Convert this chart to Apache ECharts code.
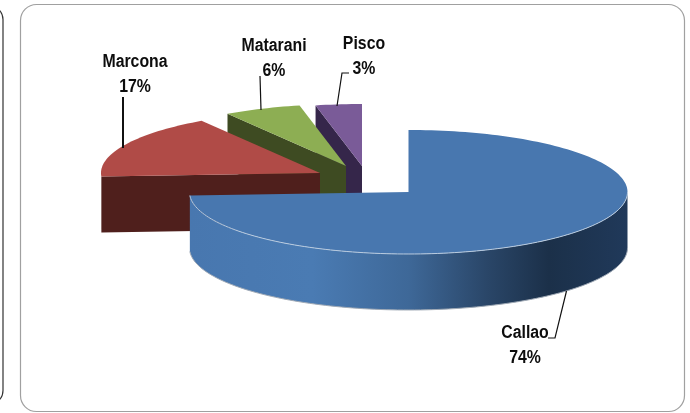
<!DOCTYPE html>
<html>
<head>
<meta charset="utf-8">
<style>html,body{margin:0;padding:0;background:#fff}#c{width:690px;height:413px}</style>
<script src="https://cdn.jsdelivr.net/npm/echarts@6/dist/echarts.min.js"></script>
</head>
<body>
<div id="c"></div>
<script>
// Data
const categories = ['Callao', 'Marcona', 'Matarani', 'Pisco'];
const shares = [74.1, 16.8, 5.7, 3.4];

// Style and layout (kept apart from the data)
const topColors = ['#4877AF', '#B04B47', '#8DAE53', '#7A5B98'];
const sideColors = ['#4877AF', '#4F1F1C', '#3E4B22', '#35264A'];
const centers = [[408.5, 192], [320, 173], [346, 166], [362, 166]];
const rx = 219, ry = 62, depth = 56;
const labelPos = [[525, 345.5], [135, 75], [274, 58.5], [364, 56.5]];
const leaders = [
  [[548, 338], [555, 338], [566.5, 291]],
  [[123, 97], [123, 148]],
  [[260, 76], [261, 110]],
  [[349, 73], [342, 73], [337, 106]]
];

const total = shares.reduce((a, b) => a + b, 0);
function rimPts(c, a0, a1, dy) {
  const pts = [];
  const n = Math.max(2, Math.ceil((a1 - a0) / 1.5));
  for (let i = 0; i <= n; i++) {
    const a = (a0 + (a1 - a0) * i / n) * Math.PI / 180;
    pts.push([c[0] + rx * Math.sin(a), c[1] - ry * Math.cos(a) + (dy || 0)]);
  }
  return pts;
}
function renderSlice(params, api) {
  const i = params.dataIndex;
  let before = 0;
  for (let k = 0; k < i; k++) before += shares[k];
  const a0 = before / total * 360;
  const a1 = (before + api.value(0)) / total * 360;
  const c = centers[i];
  const z = 40 - i * 10;
  const children = [];
  const startRim = rimPts(c, a0, a0, 0)[0];

  if (i === 0) {
    // outer wall visible at the front of the big slice
    const top = rimPts(c, 90, a1, 0);
    const bottom = rimPts(c, 90, a1, depth).reverse();
    children.push({
      type: 'polygon', z2: z,
      shape: { points: top.concat(bottom) },
      style: {
        fill: new echarts.graphic.LinearGradient(1, 0, 0, 0, [
          { offset: 0, color: '#20395A' },
          { offset: 0.18, color: '#1B3049' },
          { offset: 0.32, color: '#2A4668' },
          { offset: 0.5, color: '#3E6898' },
          { offset: 0.72, color: '#4A7BB3' },
          { offset: 1, color: '#4877AF' }
        ])
      }
    });
    children.push({
      type: 'polyline', z2: z + 1,
      shape: { points: rimPts(c, 90, a1, depth) },
      style: { fill: null, stroke: '#9FA9B5', lineWidth: 1 }
    });
  } else {
    // cut face of the pulled-out slice, seen from the front
    children.push({
      type: 'polygon', z2: z,
      shape: { points: [
        [startRim[0], startRim[1]], [c[0], c[1]],
        [c[0], c[1] + depth], [startRim[0], startRim[1] + depth]
      ] },
      style: { fill: sideColors[i] }
    });
  }
  children.push({
    type: 'polygon', z2: z + 2,
    shape: { points: [[c[0], c[1]]].concat(rimPts(c, a0, a1, 0)) },
    style: { fill: topColors[i] }
  });
  if (i === 0) {
    children.push({
      type: 'polyline', z2: z + 3,
      shape: { points: rimPts(c, 90, a1, 0) },
      style: { fill: null, stroke: '#B9CBDF', lineWidth: 1 }
    });
  }
  children.push({
    type: 'polyline', z2: 60,
    shape: { points: leaders[i] },
    style: { fill: null, stroke: '#111', lineWidth: i === 1 ? 2 : 1.2 }
  });
  children.push({
    type: 'text', z2: 70,
    x: labelPos[i][0], y: labelPos[i][1],
    scaleX: 0.88,
    style: {
      text: categories[i] + '\n' + Math.round(api.value(0)) + '%',
      align: 'center', verticalAlign: 'middle',
      fontFamily: '"Liberation Sans", Arial, sans-serif',
      fontWeight: 'bold', fontSize: 18, lineHeight: 25, fill: '#0d0d0d'
    }
  });
  return { type: 'group', children };
}

const chart = echarts.init(document.getElementById('c'), null, { renderer: 'canvas' });
chart.setOption({
  animation: false,
  backgroundColor: '#ffffff',
  graphic: [
    { type: 'rect', z: -1, shape: { x: -300, y: 5.5, width: 303, height: 399, r: 14 },
      style: { fill: '#fff', stroke: '#333', lineWidth: 1.2 }, silent: true },
    { type: 'rect', z: -1, shape: { x: 20.5, y: 4.5, width: 664, height: 407, r: 16 },
      style: { fill: '#fff', stroke: '#A0A0A0', lineWidth: 1.2 }, silent: true }
  ],
  series: [{
    type: 'custom',
    coordinateSystem: 'none',
    silent: true,
    renderItem: renderSlice,
    data: shares.map(v => [v])
  }]
});
</script>
</body>
</html>
